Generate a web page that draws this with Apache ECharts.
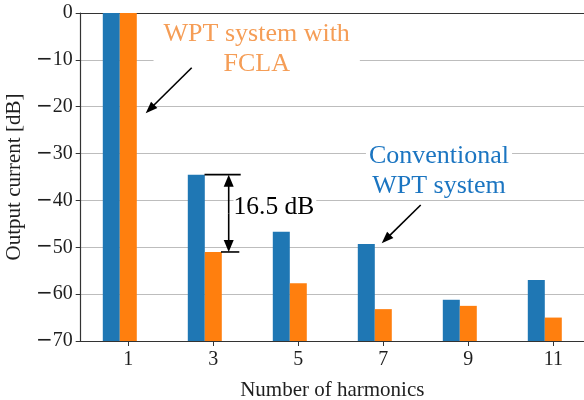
<!DOCTYPE html>
<html>
<head>
<meta charset="utf-8">
<script src="https://cdn.jsdelivr.net/npm/echarts@6/dist/echarts.min.js"></script>
<style>
  html, body { margin: 0; padding: 0; background: #ffffff; }
  #chart { width: 584px; height: 400px; }
</style>
</head>
<body>
<div id="chart"></div>
<script>
// ---- data ----
const harmonics = ['1', '3', '5', '7', '9', '11'];
const conventional = [0, -34.5, -46.7, -49.3, -61.2, -57.0];   // Conventional WPT system [dB]
const fcla = [0, -51.0, -57.7, -63.2, -62.5, -65.0];           // WPT system with FCLA [dB]
const yMin = -70;
const yMax = 0;
const yStep = 10;
const xTitle = 'Number of harmonics';
const yTitle = 'Output current [dB]';
const diffLabel = '16.5 dB';

// ---- styles ----
const SERIF = 'Liberation Serif';
const BLUE = '#1f77b4';
const ORANGE = '#ff7f0e';
const INK = '#1e1e1e';
const SPINE = '#333333';

const chart = echarts.init(document.getElementById('chart'), null, { renderer: 'canvas' });

// bars rise from the bottom of the axis (yMin), so they are drawn on a shifted scale
const toBar = v => v - yMin;

const option = {
  animation: false,
  backgroundColor: '#ffffff',
  grid: [
    { left: 77.3, top: 13, width: 510, height: 328, outerBoundsMode: 'none', containLabel: false },
    { left: 85.8, top: 13, width: 510, height: 328, outerBoundsMode: 'none', containLabel: false }
  ],
  xAxis: [
    {
      type: 'category', gridIndex: 0, data: harmonics, position: 'bottom', boundaryGap: true,
      axisLine: { show: true, onZero: false, lineStyle: { color: SPINE, width: 1.2 } },
      axisTick: { show: false }, axisLabel: { show: false }, splitLine: { show: false },
      name: xTitle, nameLocation: 'middle', nameGap: 39,
      nameTextStyle: { fontFamily: SERIF, fontSize: 21, color: INK }
    },
    {
      type: 'category', gridIndex: 0, data: harmonics, position: 'top', boundaryGap: true,
      axisLine: { show: true, onZero: false, lineStyle: { color: SPINE, width: 1.2 } },
      axisTick: { show: false }, axisLabel: { show: false }, splitLine: { show: false }
    },
    {
      type: 'category', gridIndex: 1, data: harmonics, position: 'bottom', boundaryGap: true,
      axisLine: { show: false, onZero: false },
      axisTick: { show: true, alignWithLabel: true, length: 5, lineStyle: { color: SPINE, width: 1 } },
      axisLabel: { show: true, margin: 9, fontFamily: SERIF, fontSize: 20, color: INK },
      splitLine: { show: false }
    }
  ],
  yAxis: [
    {
      type: 'value', gridIndex: 0, min: toBar(yMin), max: toBar(yMax), interval: yStep,
      offset: -3.4,
      axisLine: { show: true, lineStyle: { color: SPINE, width: 1.2 } },
      axisTick: { show: true, length: 5, lineStyle: { color: SPINE, width: 1 } },
      axisLabel: {
        margin: 8, color: INK, fontFamily: SERIF, fontSize: 20,
        formatter: function (v) {
          const d = Math.round(v + yMin);
          return d === 0 ? '{n|0}' : '{m|\u2212}{n|' + Math.abs(d) + '}';
        },
        rich: {
          m: { fontFamily: 'DejaVu Sans', fontSize: 20, color: INK },
          n: { fontFamily: SERIF, fontSize: 20, color: INK }
        }
      },
      splitLine: { show: true, lineStyle: { color: '#bdbdbd', width: 1 } },
      name: yTitle, nameLocation: 'middle', nameRotate: 90, nameGap: 48,
      nameTextStyle: { fontFamily: SERIF, fontSize: 21, color: INK }
    },
    { type: 'value', gridIndex: 1, min: toBar(yMin), max: toBar(yMax), show: false }
  ],
  series: [
    {
      type: 'bar', name: 'Conventional WPT system', xAxisIndex: 0, yAxisIndex: 0,
      data: conventional.map(toBar), barWidth: 17, barGap: '0%',
      itemStyle: { color: BLUE }
    },
    {
      type: 'bar', name: 'WPT system with FCLA', xAxisIndex: 0, yAxisIndex: 0,
      data: fcla.map(toBar), barWidth: 17, barGap: '0%',
      itemStyle: { color: ORANGE }
    }
  ]
};
chart.setOption(option);

// ---- annotations ----
function arrowParts(x1, y1, x2, y2, headLen, headHalf, z) {
  const dx = x2 - x1, dy = y2 - y1;
  const L = Math.sqrt(dx * dx + dy * dy);
  const ux = dx / L, uy = dy / L;
  const bx = x2 - ux * headLen, by = y2 - uy * headLen;
  const nx = -uy, ny = ux;
  return [
    { type: 'line', z: z, shape: { x1: x1, y1: y1, x2: bx + ux * 1, y2: by + uy * 1 },
      style: { stroke: '#000', lineWidth: 1.6 } },
    { type: 'polygon', z: z, shape: { points: [[x2, y2], [bx + nx * headHalf, by + ny * headHalf], [bx - nx * headHalf, by - ny * headHalf]] },
      style: { fill: '#000' } }
  ];
}

const yTop = chart.convertToPixel({ yAxisIndex: 0 }, toBar(conventional[1]));
const yBot = chart.convertToPixel({ yAxisIndex: 0 }, toBar(fcla[1]));
const dimX = 228.7;

const elements = [
  {
    type: 'text', z: 50, x: 256.7, y: 16.6,
    style: {
      text: 'WPT system with\nFCLA', fontFamily: SERIF, fontSize: 26, lineHeight: 30,
      fill: '#f59d56', align: 'center', verticalAlign: 'top',
      backgroundColor: '#ffffff', padding: [3, 10]
    }
  },
  {
    type: 'text', z: 50, x: 439, y: 156.2,
    style: {
      text: 'Conventional', fontFamily: SERIF, fontSize: 26, lineHeight: 26,
      fill: '#1b75c1', align: 'center', verticalAlign: 'middle',
      backgroundColor: '#ffffff', padding: [0, 3]
    }
  },
  {
    type: 'text', z: 50, x: 439, y: 186.2,
    style: {
      text: 'WPT system', fontFamily: SERIF, fontSize: 26, lineHeight: 26,
      fill: '#1b75c1', align: 'center', verticalAlign: 'middle'
    }
  },
  {
    type: 'text', z: 50, x: 233.5, y: 207.1,
    style: {
      text: diffLabel, fontFamily: SERIF, fontSize: 25.5, lineHeight: 25.5,
      fill: '#000', align: 'left', verticalAlign: 'middle',
      backgroundColor: '#ffffff', padding: [0, 2, 0, 0]
    }
  },
  { type: 'line', z: 60, shape: { x1: 204.5, y1: yTop, x2: 240.7, y2: yTop }, style: { stroke: '#000', lineWidth: 1.6 } },
  { type: 'line', z: 60, shape: { x1: 221, y1: yBot, x2: 239.3, y2: yBot }, style: { stroke: '#000', lineWidth: 1.6 } }
];
elements.push(...arrowParts(191.7, 67.7, 145.7, 113.3, 12, 4.5, 60));
elements.push(...arrowParts(420.7, 205, 381.7, 243.3, 12, 4.5, 60));
const midY = (yTop + yBot) / 2;
elements.push(...arrowParts(dimX, midY, dimX, yTop, 12, 5, 60));
elements.push(...arrowParts(dimX, midY, dimX, yBot, 12, 5, 60));

chart.setOption({ graphic: { elements: elements } });
</script>
</body>
</html>
